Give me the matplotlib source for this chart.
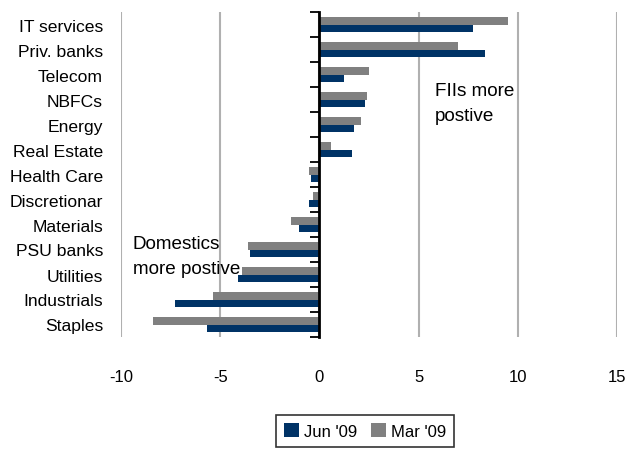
import matplotlib
matplotlib.use("Agg")
import matplotlib.pyplot as plt
import numpy as np

categories = ["IT services", "Priv. banks", "Telecom", "NBFCs", "Energy", "Real Estate",
              "Health Care", "Discretionar", "Materials", "PSU banks", "Utilities",
              "Industrials", "Staples"]
jun09 = [7.75, 8.35, 1.25, 2.3, 1.75, 1.65, -0.4, -0.5, -1.05, -3.5, -4.1, -7.3, -5.65]
mar09 = [9.5, 7.0, 2.5, 2.4, 2.1, 0.6, -0.5, -0.3, -1.45, -3.6, -3.9, -5.35, -8.4]
xticks = [-10, -5, 0, 5, 10, 15]

plt.rcParams['font.family'] = ['Liberation Sans', 'DejaVu Sans']

fig = plt.figure(figsize=(6.28, 4.52), dpi=100)
ax = fig.add_axes([121/628, 1-338/452, 496/628, 325/452])

y = np.arange(len(categories))
h = 0.3
ax.barh(y - h/2, mar09, height=h, color="#808080", label="Mar '09", zorder=2)
ax.barh(y + h/2, jun09, height=h, color="#003366", label="Jun '09", zorder=2)

ax.set_ylim(len(categories) - 0.5, -0.5)
ax.set_xlim(-10, 15)
ax.set_xticks(xticks)
ax.set_xticklabels([str(v) for v in xticks], fontsize=12)
ax.tick_params(axis='x', length=0, pad=23)
ax.set_yticks(y)
ax.set_yticklabels(categories, fontsize=12.6)
ax.tick_params(axis='y', length=0, pad=13)
for s in ax.spines.values():
    s.set_visible(False)
ax.xaxis.grid(True, color="#b0b0b0", linewidth=1.5, zorder=0)
ax.set_axisbelow(True)

sec = ax.secondary_yaxis(0.4)
sec.set_zorder(5)
sec.set_yticks(np.arange(len(categories) + 1) - 0.5)
sec.set_yticklabels([])
sec.tick_params(axis='y', direction='out', length=6.5, width=1.3, color='black')
sec.spines['left'].set_linewidth(2)
sec.spines['left'].set_color('black')
sec.spines['left'].set_zorder(5)

ax.text(0.633, 0.72, "FIIs more\npostive", transform=ax.transAxes, fontsize=13.6,
        ha='left', va='center', linespacing=1.65, zorder=5)
ax.text(0.024, 0.25, "Domestics\nmore postive", transform=ax.transAxes, fontsize=13.6,
        ha='left', va='center', linespacing=1.65, zorder=5)

handles, labels = ax.get_legend_handles_labels()
leg = fig.legend(handles[::-1], labels[::-1], loc='upper center',
                 bbox_to_anchor=(365/628, 1-416/452), ncol=2, fontsize=12,
                 frameon=True, fancybox=False, edgecolor='black',
                 handlelength=0.9, handleheight=0.9, handletextpad=0.3,
                 columnspacing=0.8, borderpad=0.5, borderaxespad=0)
leg.get_frame().set_linewidth(1.2)

fig.savefig("out.png", dpi=100)
